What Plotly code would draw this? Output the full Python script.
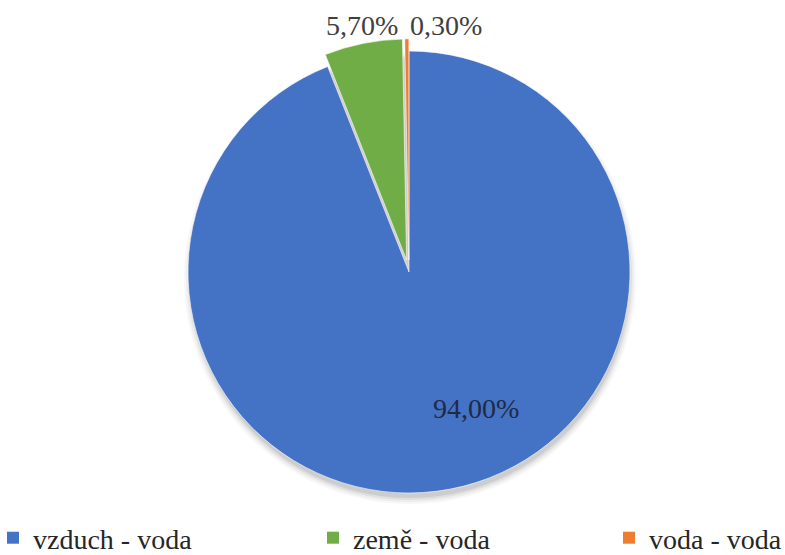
import plotly.graph_objects as go

labels = ["vzduch - voda", "země - voda", "voda - voda"]
values = [94.0, 5.7, 0.3]
colors = ["#4472C4", "#70AD47", "#ED7D31"]
pulls = [0, 0.055, 0.055]

W, H = 785, 555
SERIF = "Times New Roman, Liberation Serif, serif"
# pie placement in pixels: centre and radius of the unpulled disc
cx, cy, rad = 409, 272, 221
half = rad * (1 + max(pulls))

fig = go.Figure()

# soft drop shadow under the pie
for grow, op in [(5, 0.03), (3, 0.04), (1, 0.06), (-1, 0.08)]:
    r = rad + grow
    ocx, ocy = cx + 1, cy + 6
    fig.add_shape(
        type="circle", xref="paper", yref="paper", layer="below",
        x0=(ocx - r) / W, x1=(ocx + r) / W,
        y0=1 - (ocy + r) / H, y1=1 - (ocy - r) / H,
        fillcolor=f"rgba(0,0,0,{op})", line_width=0,
    )

fig.add_trace(go.Pie(
    labels=labels, values=values,
    sort=False, direction="clockwise", rotation=0,
    pull=pulls,
    marker=dict(colors=colors, line=dict(color="white", width=0.6)),
    textinfo="none",
    domain=dict(x=[(cx - half) / W, (cx + half) / W],
                y=[1 - (cy + half) / H, 1 - (cy - half) / H]),
    hoverinfo="label+percent",
    showlegend=False,
))

# percentage labels, formatted from the slice values
total = sum(values)
label_xy = [(476, 408), (362, 26), (446, 26)]
label_col = ["#1f2a44", "#404040", "#404040"]
for v, (lx, ly), col in zip(values, label_xy, label_col):
    pct = f"{100 * v / total:.2f}%".replace(".", ",")
    fig.add_annotation(
        x=lx / W, y=1 - ly / H, xref="paper", yref="paper",
        text=pct, showarrow=False, xanchor="center", yanchor="middle",
        font=dict(family=SERIF, size=28, color=col),
    )

# legend: one entry per category, spread along the bottom
legend_x = [-7 / W, 313 / W, 609 / W]
legend_names = ["legend", "legend2", "legend3"]
legend_layout = {}
for name, col, lg, lx in zip(labels, colors, legend_names, legend_x):
    fig.add_trace(go.Scatter(
        x=[None], y=[None], mode="markers", name=name,
        marker=dict(symbol="square", size=12, color=col),
        legend=lg, showlegend=True, hoverinfo="skip",
    ))
    legend_layout[lg] = dict(
        x=lx, xanchor="left", y=-8 / H, yanchor="bottom",
        orientation="h", bgcolor="rgba(0,0,0,0)", itemwidth=30,
        font=dict(family=SERIF, size=28, color="#262626"),
    )

fig.update_layout(
    width=W, height=H,
    margin=dict(l=0, r=0, t=0, b=0, autoexpand=False),
    paper_bgcolor="white", plot_bgcolor="rgba(0,0,0,0)",
    xaxis=dict(visible=False), yaxis=dict(visible=False),
    **legend_layout,
)

fig.write_html("out.html")
